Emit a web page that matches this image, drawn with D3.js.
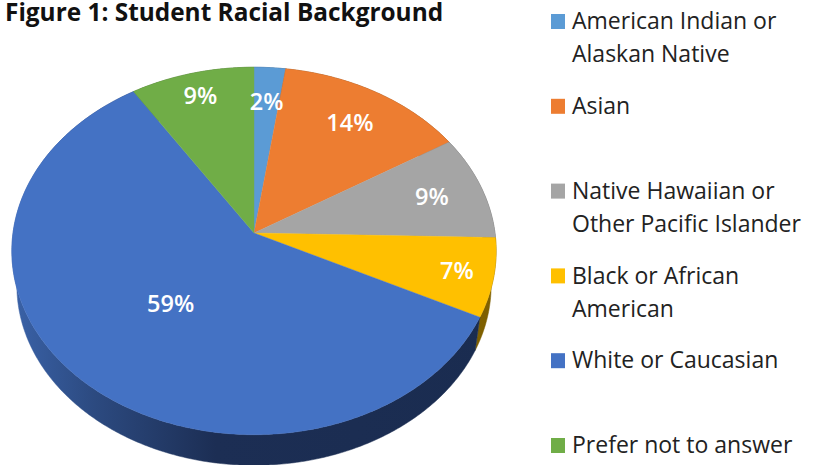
<!DOCTYPE html>
<html>
<head>
<meta charset="utf-8">
<script src="https://cdn.jsdelivr.net/npm/d3@7"></script>
<style>
  html, body { margin: 0; padding: 0; background: #fff; overflow: hidden; }
  text { font-family: "Open Sans", sans-serif; }
</style>
</head>
<body>
<div id="chart"></div>
<script>
// data (percent of students, clockwise from 12 o'clock)
var categories = ["American Indian or Alaskan Native", "Asian", "Native Hawaiian or Other Pacific Islander",
  "Black or African American", "White or Caucasian", "Prefer not to answer"];
var values = [2.3, 13.9, 9.2, 6.9, 58.6, 9.1];
var legendLines = [["American Indian or", "Alaskan Native"], ["Asian"], ["Native Hawaiian or", "Other Pacific Islander"],
  ["Black or African", "American"], ["White or Caucasian"], ["Prefer not to answer"]];
var colors = ["#5B9BD5", "#ED7D31", "#A5A5A5", "#FFC000", "#4472C4", "#70AD47"];
var wallColors = ["#2F5B85", "#8A4A1C", "#636363", "#7F6000", "url(#blueWall)", "#43682B"];
var titleText = "Figure 1: Student Racial Background";

var width = 814, height = 465;

var svg = d3.select("#chart").append("svg")
  .attr("width", width).attr("height", height);

var color = d3.scaleOrdinal().domain(categories).range(colors);
var wallColor = d3.scaleOrdinal().domain(categories).range(wallColors);

var defs = svg.append("defs");
var grad = defs.append("linearGradient").attr("id", "blueWall")
  .attr("gradientUnits", "userSpaceOnUse")
  .attr("x1", 12).attr("x2", 497).attr("y1", 0).attr("y2", 0);
grad.append("stop").attr("offset", "0%").attr("stop-color", "#3A62A8");
grad.append("stop").attr("offset", "17%").attr("stop-color", "#2C4A80");
grad.append("stop").attr("offset", "42%").attr("stop-color", "#1C2E54");
grad.append("stop").attr("offset", "100%").attr("stop-color", "#1A2C50");

// tilted disc: a circle seen in perspective, so the hub is not the ellipse centre
function disc(cx, cy, rx, a, b) {
  return function(angle, r) {
    var u = Math.sin(angle) * r, v = -Math.cos(angle) * r;
    var w = 1 - b * v;
    return [cx + rx * u / w, cy + a * v / w];
  };
}
var top3d = disc(254, 233, 241, 182, 0.0978);
var bottom3d = disc(254, 268, 236, 178, 0.0978);

var pie = d3.pie().sort(null).value(function(d, i) { return values[i]; });
var slices = pie(categories);
var line = d3.line();

function arcAngles(d) {
  var n = Math.max(2, Math.ceil((d.endAngle - d.startAngle) / 0.01));
  return d3.range(n + 1).map(function(i) {
    return d.startAngle + (d.endAngle - d.startAngle) * i / n;
  });
}

// side wall first, the top face goes over it
svg.append("g").selectAll("path").data(slices).enter().append("path")
  .attr("d", function(d) {
    var angles = arcAngles(d);
    var upper = angles.map(function(t) { return top3d(t, 1); });
    var lower = angles.slice().reverse().map(function(t) { return bottom3d(t, 1); });
    return line(upper.concat(lower)) + "Z";
  })
  .attr("fill", function(d) { return wallColor(d.data); })
  .attr("stroke", function(d) { return wallColor(d.data); })
  .attr("stroke-width", 0.5);

svg.append("g").selectAll("path").data(slices).enter().append("path")
  .attr("d", function(d) {
    var pts = arcAngles(d).map(function(t) { return top3d(t, 1); });
    return line([top3d(0, 0)].concat(pts)) + "Z";
  })
  .attr("fill", function(d) { return color(d.data); })
  .attr("stroke", function(d) { return color(d.data); })
  .attr("stroke-width", 0.4);

// how far along the radius each label sits
var labelRadius = [0.78, 0.77, 0.78, 0.85, 0.5, 0.85];
var pct = d3.format(".0f");
svg.append("g").selectAll("text").data(slices).enter().append("text")
  .attr("transform", function(d, i) {
    var p = top3d((d.startAngle + d.endAngle) / 2, labelRadius[i]);
    return "translate(" + p[0] + "," + p[1] + ")";
  })
  .attr("text-anchor", "middle")
  .attr("dy", "0.36em")
  .attr("fill", "#fff")
  .attr("font-size", 23.5)
  .attr("font-weight", 600)
  .text(function(d) { return pct(d.value) + "%"; });

svg.append("text")
  .attr("x", 5).attr("y", 21)
  .attr("font-size", 24.4)
  .attr("font-weight", 700)
  .attr("fill", "#111")
  .text(titleText);

// legend rows are evenly spaced
var legendY = d3.scalePoint().domain(categories).range([21, 445]);
var rows = svg.append("g").selectAll("g").data(categories).enter().append("g")
  .attr("transform", function(d) { return "translate(551," + legendY(d) + ")"; });
rows.append("rect")
  .attr("x", 0).attr("y", -7).attr("width", 14).attr("height", 15)
  .attr("fill", function(d) { return color(d); });
rows.selectAll("text").data(function(d, i) { return legendLines[i]; }).enter().append("text")
  .attr("x", 21)
  .attr("y", function(d, i) { return i * 33; })
  .attr("dy", "0.36em")
  .attr("font-size", 23)
  .attr("fill", "#222")
  .text(function(d) { return d; });
</script>
</body>
</html>
